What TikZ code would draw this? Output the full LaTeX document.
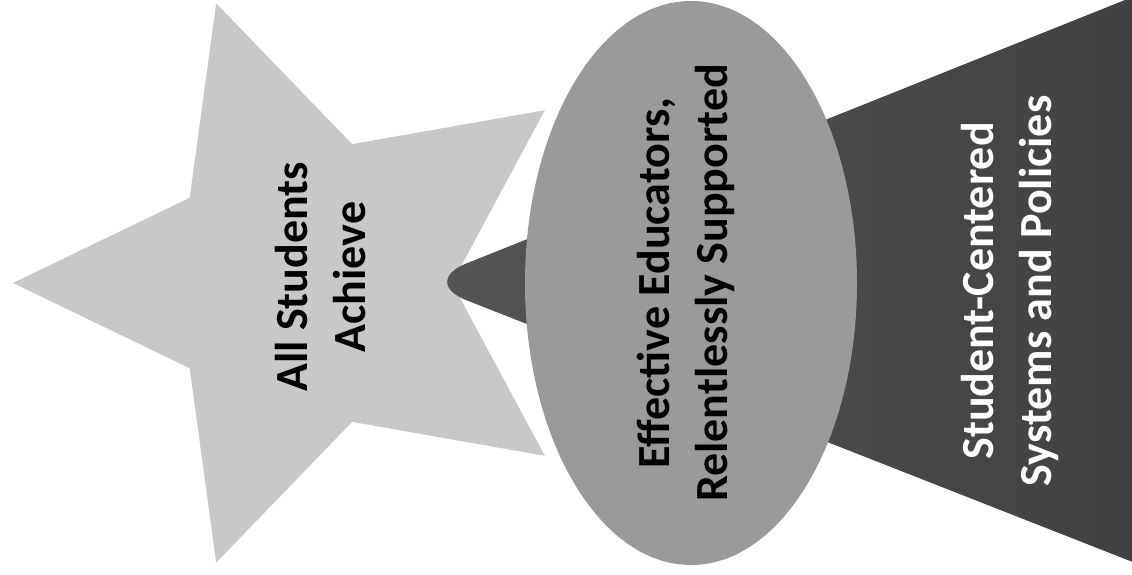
\documentclass[tikz,border=0pt]{standalone}
\usepackage{fontspec}
\setmainfont{Carlito}
\definecolor{starfill}{HTML}{C8C8C8}
\definecolor{ellfill}{HTML}{9A9A9A}
\definecolor{conel}{HTML}{555555}
\definecolor{coner}{HTML}{3A3A3A}
\tikzset{
  lbl/.style={font=\bfseries\fontsize{46}{58}\selectfont, align=center, rotate=90, inner sep=0pt},
}
\begin{document}
\begin{tikzpicture}[x=1pt,y=-1pt]
\useasboundingbox (0,0) rectangle (1132,574);
\clip (0,0) rectangle (1132,574);
\fill[white] (0,0) rectangle (1132,574);
% star
\fill[starfill] (307,283) +(180:294) -- +(144:145) -- +(108:294) -- +(72:146)
  -- +(36:294) -- +(0:145) -- +(-36:294) -- +(-72:146) -- +(-108:294) -- +(-144:145) -- cycle;
% cone
\shade[left color=conel, right color=coner, rounded corners=50pt]
  (1400,-110) -- (420,282) -- (1400,667) -- cycle;
% ellipse
\fill[ellfill] (691,283) ellipse [x radius=166, y radius=282];
% texts
\node[lbl, text=black] (star) at (321,277) {All Students\\Achieve};
\node[lbl, text=black] (educ) at (686,283) {Effective Educators,\\Relentlessly Supported};
\node[lbl, text=white] (sys) at (1010,291) {Student-Centered\\Systems and Policies};
\end{tikzpicture}
\end{document}
